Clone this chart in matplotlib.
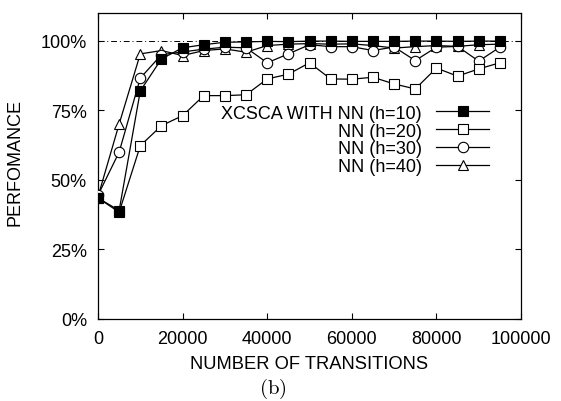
import matplotlib
matplotlib.use("Agg")
import matplotlib.pyplot as plt
from matplotlib.ticker import FuncFormatter

plt.rcParams['font.family'] = ['Liberation Sans', 'DejaVu Sans']

transitions = [0, 5000, 10000, 15000, 20000, 25000, 30000, 35000, 40000, 45000,
               50000, 55000, 60000, 65000, 70000, 75000, 80000, 85000, 90000, 95000]
h10 = [43.5, 39.0, 82.0, 93.5, 97.5, 98.6, 99.5, 99.6, 99.8, 99.7,
       99.9, 99.9, 99.8, 99.8, 99.8, 99.9, 99.9, 99.8, 99.9, 99.9]
h20 = [43.5, 38.4, 62.3, 69.5, 73.1, 80.3, 80.3, 80.6, 86.3, 88.0,
       92.1, 86.3, 86.2, 86.9, 84.5, 82.7, 90.2, 87.3, 89.9, 92.1]
h30 = [44.5, 60.0, 86.6, 95.0, 96.0, 97.0, 97.7, 97.5, 92.1, 95.3,
       98.6, 97.9, 97.9, 96.5, 97.8, 92.9, 97.7, 98.0, 92.7, 97.7]
h40 = [44.0, 70.1, 95.3, 96.5, 94.7, 96.5, 97.1, 95.9, 98.3, 98.8,
       99.0, 98.8, 98.9, 98.3, 97.4, 97.9, 98.3, 98.0, 98.6, 98.8]

labels = ["XCSCA WITH NN (h=10)", "NN (h=20)", "NN (h=30)", "NN (h=40)"]
xticks = [0, 20000, 40000, 60000, 80000, 100000]
yticks = [0, 25, 50, 75, 100]

fig = plt.figure(figsize=(5.61, 4.02), dpi=100)
ax = fig.add_axes([98/561, 1-320/402, 423/561, 306/402])

ax.axhline(100, color='black', lw=0.7, ls=(0, (6, 3, 1, 3)), zorder=1)

lw = 0.9
ms = 7.5
ax.plot(transitions, h40, color='black', lw=lw, marker='^', ms=ms,
        mfc='white', mec='black', mew=0.8, label=labels[3], zorder=2)
ax.plot(transitions, h30, color='black', lw=lw, marker='o', ms=ms,
        mfc='white', mec='black', mew=0.8, label=labels[2], zorder=3)
ax.plot(transitions, h20, color='black', lw=lw, marker='s', ms=ms,
        mfc='white', mec='black', mew=0.8, label=labels[1], zorder=4)
ax.plot(transitions, h10, color='black', lw=lw, marker='s', ms=ms,
        mfc='black', mec='black', mew=0.8, label=labels[0], zorder=5)

ax.set_xlim(0, 100000)
ax.set_ylim(0, 110)
ax.set_xticks(xticks)
ax.set_yticks(yticks)
ax.yaxis.set_major_formatter(FuncFormatter(lambda v, p: f"{int(v)}%"))
ax.tick_params(direction='in', length=4.5, width=0.8, top=True, right=True,
               labelsize=13)
ax.tick_params(axis='x', pad=8)
ax.tick_params(axis='y', pad=8)
for s in ax.spines.values():
    s.set_linewidth(0.9)

ax.set_xlabel("NUMBER OF TRANSITIONS", fontsize=13.2, labelpad=6)
ax.set_ylabel("PERFOMANCE", fontsize=13)
ax.yaxis.set_label_coords(-0.175, 0.515)

h, l = ax.get_legend_handles_labels()
order = [3, 2, 1, 0]
leg = ax.legend([h[i] for i in order], [l[i] for i in order],
                loc='upper right', bbox_to_anchor=(0.924, 0.70),
                frameon=False, markerfirst=False, fontsize=13,
                handlelength=2.9, handletextpad=0.8, labelspacing=0.04,
                borderpad=0, borderaxespad=0)

fig.text(273/561, 1-389/402, r'$(\mathrm{b})$', math_fontfamily='cm',
         fontsize=15, ha='center', va='center')

fig.savefig("out.png", dpi=100)
